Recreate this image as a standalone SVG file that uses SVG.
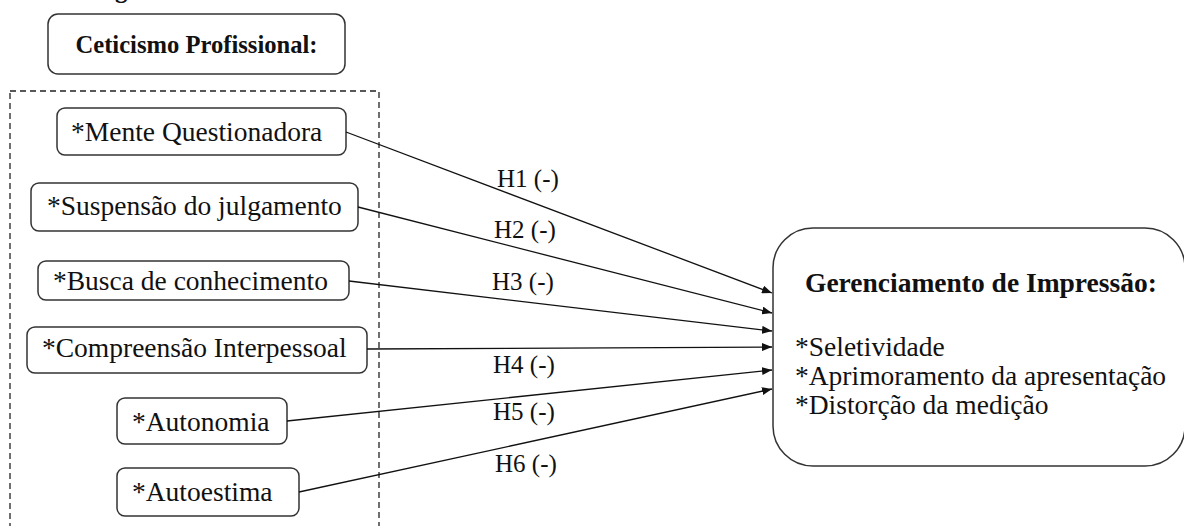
<svg xmlns="http://www.w3.org/2000/svg" width="1184" height="526" viewBox="0 0 1184 526">
  <style>
    .box { fill: #ffffff; stroke: #333333; stroke-width: 1.5; }
    .frame { fill: none; stroke: #222222; stroke-width: 1.3; stroke-dasharray: 6 4; }
    .link { fill: none; stroke: #111111; stroke-width: 1.3; marker-end: url(#arrow); }
    .t { font-family: "Liberation Serif", "Times New Roman", serif; fill: #111111; }
    .item { font-size: 27.5px; }
    .lbl { font-size: 25px; }
    .head { font-weight: bold; }
  </style>
  <defs>
    <marker id="arrow" viewBox="0 0 10 8" refX="10" refY="4" markerWidth="10" markerHeight="8" markerUnits="userSpaceOnUse" orient="auto">
      <path d="M0,0 L10,4 L0,8 Z" fill="#111111"/>
    </marker>
  </defs>

  <!-- fragment of the caption above the figure -->
  <text class="t head" x="115" y="-2" font-size="25">g</text>

  <!-- dashed frame around the skepticism dimensions -->
  <rect class="frame" x="10" y="91" width="369" height="450"/>

  <g id="ceticismo">
    <rect class="box" x="48" y="14" width="297" height="60" rx="10"/>
    <text class="t head" x="196.5" y="53" font-size="24.6" text-anchor="middle">Ceticismo Profissional:</text>
  </g>

  <g id="mente">
    <rect class="box" x="57" y="108" width="289" height="47" rx="8"/>
    <text class="t item" x="71" y="141">*Mente Questionadora</text>
  </g>

  <g id="suspensao">
    <rect class="box" x="31" y="183" width="327" height="48" rx="8"/>
    <text class="t item" x="47" y="215">*Suspensão do julgamento</text>
  </g>

  <g id="busca">
    <rect class="box" x="38" y="261" width="311" height="39" rx="8"/>
    <text class="t item" x="53" y="290">*Busca de conhecimento</text>
  </g>

  <g id="compreensao">
    <rect class="box" x="27" y="327" width="340" height="46" rx="8"/>
    <text class="t item" x="42" y="357">*Compreensão Interpessoal</text>
  </g>

  <g id="autonomia">
    <rect class="box" x="117" y="398" width="170" height="46" rx="8"/>
    <text class="t item" x="132" y="431">*Autonomia</text>
  </g>

  <g id="autoestima">
    <rect class="box" x="117" y="468" width="182" height="48" rx="8"/>
    <text class="t item" x="132" y="501">*Autoestima</text>
  </g>

  <g id="gerenciamento">
    <rect class="box" x="773" y="228" width="412" height="238" rx="40"/>
    <text class="t head" x="805" y="292" font-size="27.5">Gerenciamento de Impressão:</text>
    <text class="t item" x="795" y="356">*Seletividade</text>
    <text class="t item" x="795" y="385">*Aprimoramento da apresentação</text>
    <text class="t item" x="795" y="414">*Distorção da medição</text>
  </g>

  <g id="connectors">
    <line class="link" x1="346" y1="132" x2="772" y2="293"/>
    <line class="link" x1="358" y1="207" x2="772" y2="313"/>
    <line class="link" x1="349" y1="281" x2="772" y2="331"/>
    <line class="link" x1="367" y1="349" x2="772" y2="347"/>
    <line class="link" x1="287" y1="421" x2="772" y2="370"/>
    <line class="link" x1="299" y1="492" x2="772" y2="389"/>
    <text class="t lbl" x="497" y="187">H1 (-)</text>
    <text class="t lbl" x="494" y="238">H2 (-)</text>
    <text class="t lbl" x="492" y="290">H3 (-)</text>
    <text class="t lbl" x="493" y="373">H4 (-)</text>
    <text class="t lbl" x="493" y="420">H5 (-)</text>
    <text class="t lbl" x="495" y="472">H6 (-)</text>
  </g>
</svg>
